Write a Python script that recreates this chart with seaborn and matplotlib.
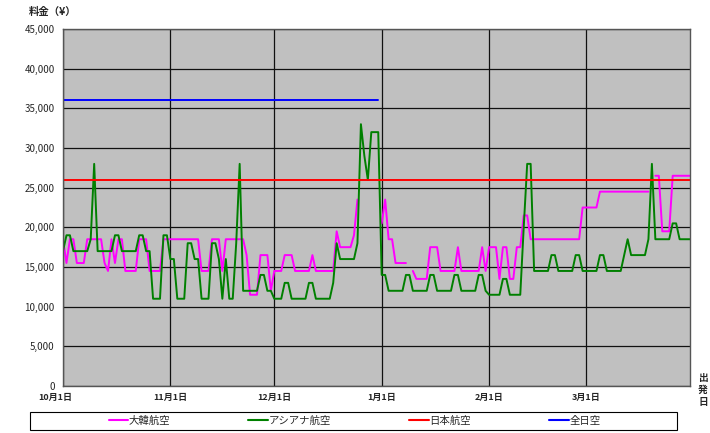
import numpy as np
import pandas as pd
import matplotlib
matplotlib.use("Agg")
import matplotlib.pyplot as plt
import seaborn as sns
from matplotlib.lines import Line2D
from matplotlib.patches import Rectangle
from matplotlib.transforms import ScaledTranslation

nan = np.nan

# daily fares, Oct 1 - Mar 31
korean_air = [
    # Oct
    18500, 15500, 18500, 18500, 15500, 15500, 15500, 18500, 18500, 18500,
    18500, 18500, 15500, 14500, 18500, 15500, 18500, 18500, 14500, 14500,
    14500, 14500, 18500, 18500, 18500, 14500, 14500, 14500, 14500, 18500, 18500,
    # Nov
    18500, 18500, 18500, 18500, 18500, 18500, 18500, 18500, 18500, 14500,
    14500, 14500, 18500, 18500, 18500, 14500, 18500, 18500, 18500, 18500,
    18500, 18500, 16500, 11500, 11500, 11500, 16500, 16500, 16500, 12000,
    # Dec
    14500, 14500, 14500, 16500, 16500, 16500, 14500, 14500, 14500, 14500,
    14500, 16500, 14500, 14500, 14500, 14500, 14500, 14500, 19500, 17500,
    17500, 17500, 17500, 19000, 23500, nan, nan, nan, nan, nan, nan,
    # Jan
    20500, 23500, 18500, 18500, 15500, 15500, 15500, 15500, nan, 14500,
    13500, 13500, 13500, 13500, 17500, 17500, 17500, 14500, 14500, 14500,
    14500, 14500, 17500, 14500, 14500, 14500, 14500, 14500, 14500, 17500, 14500,
    # Feb
    17500, 17500, 17500, 13500, 17500, 17500, 13500, 13500, 17500, 17500,
    21500, 21500, 18500, 18500, 18500, 18500, 18500, 18500, 18500, 18500,
    18500, 18500, 18500, 18500, 18500, 18500, 18500, 22500,
    # Mar
    22500, 22500, 22500, 22500, 24500, 24500, 24500, 24500, 24500, 24500,
    24500, 24500, 24500, 24500, 24500, 24500, 24500, 24500, 24500, nan,
    26500, 26500, 19500, 19500, 19500, 26500, 26500, 26500, 26500, 26500, 26500,
]

asiana = [
    # Oct
    17000, 19000, 19000, 17000, 17000, 17000, 17000, 17000, 18500, 28000,
    17000, 17000, 17000, 17000, 17000, 19000, 19000, 17000, 17000, 17000,
    17000, 17000, 19000, 19000, 17000, 17000, 11000, 11000, 11000, 19000, 19000,
    # Nov
    16000, 16000, 11000, 11000, 11000, 18000, 18000, 16000, 16000, 11000,
    11000, 11000, 18000, 18000, 16000, 11000, 16000, 11000, 11000, 18000,
    28000, 12000, 12000, 12000, 12000, 12000, 14000, 14000, 12000, 12000,
    # Dec
    11000, 11000, 11000, 13000, 13000, 11000, 11000, 11000, 11000, 11000,
    13000, 13000, 11000, 11000, 11000, 11000, 11000, 13000, 18000, 16000,
    16000, 16000, 16000, 16000, 18000, 33000, 29000, 26000, 32000, 32000, 32000,
    # Jan
    14000, 14000, 12000, 12000, 12000, 12000, 12000, 14000, 14000, 12000,
    12000, 12000, 12000, 12000, 14000, 14000, 12000, 12000, 12000, 12000,
    12000, 14000, 14000, 12000, 12000, 12000, 12000, 12000, 14000, 14000, 12000,
    # Feb
    11500, 11500, 11500, 11500, 13500, 13500, 11500, 11500, 11500, 11500,
    20000, 28000, 28000, 14500, 14500, 14500, 14500, 14500, 16500, 16500,
    14500, 14500, 14500, 14500, 14500, 16500, 16500, 14500,
    # Mar
    14500, 14500, 14500, 14500, 16500, 16500, 14500, 14500, 14500, 14500,
    14500, 16500, 18500, 16500, 16500, 16500, 16500, 16500, 18500, 28000,
    18500, 18500, 18500, 18500, 18500, 20500, 20500, 18500, 18500, 18500, 18500,
]

jal_fare = 26000          # flat all season
ana_fare = 36000          # flat until Dec 31
ana_last_day = "2012-12-31"

airlines = ["大韓航空", "アシアナ航空", "日本航空", "全日空"]
colors = ["#FF00FF", "#008000", "#FF0000", "#0000FF"]
y_ticks = list(range(0, 45001, 5000))
month_starts = ["2012-10-01", "2012-11-01", "2012-12-01", "2013-01-01", "2013-02-01", "2013-03-01"]
month_labels = ["10月1日", "11月1日", "12月1日", "1月1日", "2月1日", "3月1日"]

dates = pd.date_range("2012-10-01", "2013-03-31", freq="D")
jal = [jal_fare] * len(dates)
ana = [ana_fare if d <= pd.Timestamp(ana_last_day) else nan for d in dates]

frames = []
for name, vals in zip(airlines, [korean_air, asiana, jal, ana]):
    s = pd.Series(vals, index=dates, dtype=float)
    seg = s.isna().cumsum()
    df = pd.DataFrame({"date": dates, "price": s.values, "airline": name, "seg": seg.values})
    frames.append(df.dropna())
data = pd.concat(frames, ignore_index=True)

sns.set_theme(style="white")
plt.rcParams["font.family"] = ["Noto Sans CJK JP", "DejaVu Sans"]

W, H = 710, 433
fig = plt.figure(figsize=(W / 100, H / 100), dpi=100)
ax = fig.add_axes([63 / W, 1 - 386 / H, 627 / W, 357 / H])
ax.set_facecolor("#C0C0C0")

sns.lineplot(data=data, x="date", y="price", hue="airline", hue_order=airlines,
             palette=colors, units="seg", estimator=None, linewidth=1.4,
             legend=False, ax=ax)

ax.set_xlim(dates[0], dates[-1])
ax.set_ylim(0, 45000)
ax.set_yticks(y_ticks)
ax.set_yticklabels([f"{v:,}" for v in y_ticks], fontsize=7)
ax.set_xticks(pd.to_datetime(month_starts))
ax.set_xticklabels(month_labels, fontsize=6.5, fontweight="bold")
ax.tick_params(length=0)
ax.tick_params(axis="y", pad=6)
ax.tick_params(axis="x", pad=5)
ax.set_xlabel("")
ax.set_ylabel("")
ax.grid(True, color="#111111", linewidth=0.9)
ax.set_axisbelow(True)
for sp in ax.spines.values():
    sp.set_color("#555555")
    sp.set_linewidth(1.0)

first = ax.get_xticklabels()[0]
first.set_transform(first.get_transform() + ScaledTranslation(-0.08, 0, fig.dpi_scale_trans))

fig.text(29 / W, 1 - 11.5 / H, "料金（¥）", ha="left", va="center",
         fontsize=7.5, fontweight="bold")
fig.text(703 / W, 1 - 390 / H, "出\n発\n日", ha="center", va="center",
         fontsize=7, fontweight="bold", linespacing=1.3)

# legend box
fig.add_artist(Rectangle((29.5 / W, 1 - 429.5 / H), (677 - 29.5) / W, 17.5 / H,
                         transform=fig.transFigure, fill=False,
                         edgecolor="black", linewidth=0.8))
handles = [Line2D([], [], color=c, linewidth=1.5) for c in colors]
fig.legend(handles, airlines, loc="center", bbox_to_anchor=(354.5 / W, 1 - 420.5 / H),
           ncol=4, frameon=False, fontsize=7.5, handlelength=1.9,
           handletextpad=0.05, columnspacing=7.5, borderpad=0)

fig.savefig("out.png", dpi=100)
